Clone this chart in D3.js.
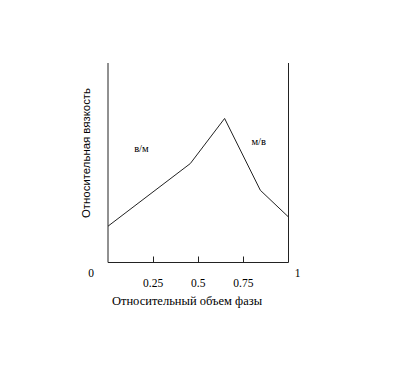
<!DOCTYPE html>
<html><head><meta charset="utf-8">
<script src="https://cdn.jsdelivr.net/npm/d3@7"></script>
<style>html,body{margin:0;padding:0;background:#fff;}</style>
</head><body>
<script>
const phaseFraction = [0, 0.456, 0.646, 0.844, 1.0];
const relViscosity = [0.182, 0.496, 0.722, 0.362, 0.228];
const tickValues = [0.25, 0.5, 0.75];
const tickLabels = ["0.25", "0.5", "0.75"];
const endValues = [0, 1];
const endLabels = ["0", "1"];
const regionLabels = [{x: 0.185, y: 0.555, t: "в/м"}, {x: 0.835, y: 0.59, t: "м/в"}];

const W = 403, H = 380;
const svg = d3.select("body").append("svg").attr("width", W).attr("height", H);
const x = d3.scaleLinear().domain([0, 1]).range([108, 288.5]);
const y = d3.scaleLinear().domain([0, 1]).range([262.5, 63]);
const ink = "#222";
const txt = "#000";
const serif = "Liberation Serif, Times New Roman, serif";

svg.append("line").attr("x1", x(0)).attr("x2", x(0)).attr("y1", y(0)).attr("y2", y(1)).attr("stroke", ink).attr("stroke-width", 1);
svg.append("line").attr("x1", x(1)).attr("x2", x(1)).attr("y1", y(0)).attr("y2", y(1)).attr("stroke", ink).attr("stroke-width", 1);
svg.append("line").attr("x1", x(0)).attr("x2", x(1)).attr("y1", y(0)).attr("y2", y(0)).attr("stroke", ink).attr("stroke-width", 1);

svg.selectAll(".tk").data(tickValues).enter().append("line")
  .attr("x1", d => Math.round(x(d)) + 0.5).attr("x2", d => Math.round(x(d)) + 0.5)
  .attr("y1", y(0)).attr("y2", y(0) - 6).attr("stroke", ink).attr("stroke-width", 1);

svg.selectAll(".tl").data(tickValues).enter().append("text")
  .attr("x", d => x(d)).attr("y", 287).attr("text-anchor", "middle")
  .style("font-family", serif).attr("font-size", 11.5).attr("fill", txt)
  .text((d, i) => tickLabels[i]);

svg.selectAll(".el").data(endValues).enter().append("text")
  .attr("x", d => x(d) + (d === 0 ? -17 : 9)).attr("y", 277).attr("text-anchor", "middle")
  .style("font-family", serif).attr("font-size", 11.5).attr("fill", txt)
  .text((d, i) => endLabels[i]);

const line = d3.line().x(d => x(d[0])).y(d => y(d[1]));
svg.append("path").datum(phaseFraction.map((v, i) => [v, relViscosity[i]]))
  .attr("d", line).attr("fill", "none").attr("stroke", ink).attr("stroke-width", 1);

svg.selectAll(".rl").data(regionLabels).enter().append("text")
  .attr("x", d => x(d.x)).attr("y", d => y(d.y)).attr("text-anchor", "middle")
  .style("font-family", serif).attr("font-size", 10.5).attr("fill", txt)
  .text(d => d.t);

svg.append("text").attr("x", 187).attr("y", 305).attr("text-anchor", "middle")
  .style("font-family", serif).attr("font-size", 12.5).attr("fill", txt)
  .text("Относительный объем фазы");

svg.append("text").attr("transform", "translate(90,153) rotate(-90)").attr("text-anchor", "middle")
  .style("font-family", "Liberation Sans, Arial, sans-serif").attr("font-size", 11.5).attr("fill", txt)
  .attr("textLength", 130).attr("lengthAdjust", "spacingAndGlyphs")
  .text("Относительная вязкость");
</script>
</body></html>
